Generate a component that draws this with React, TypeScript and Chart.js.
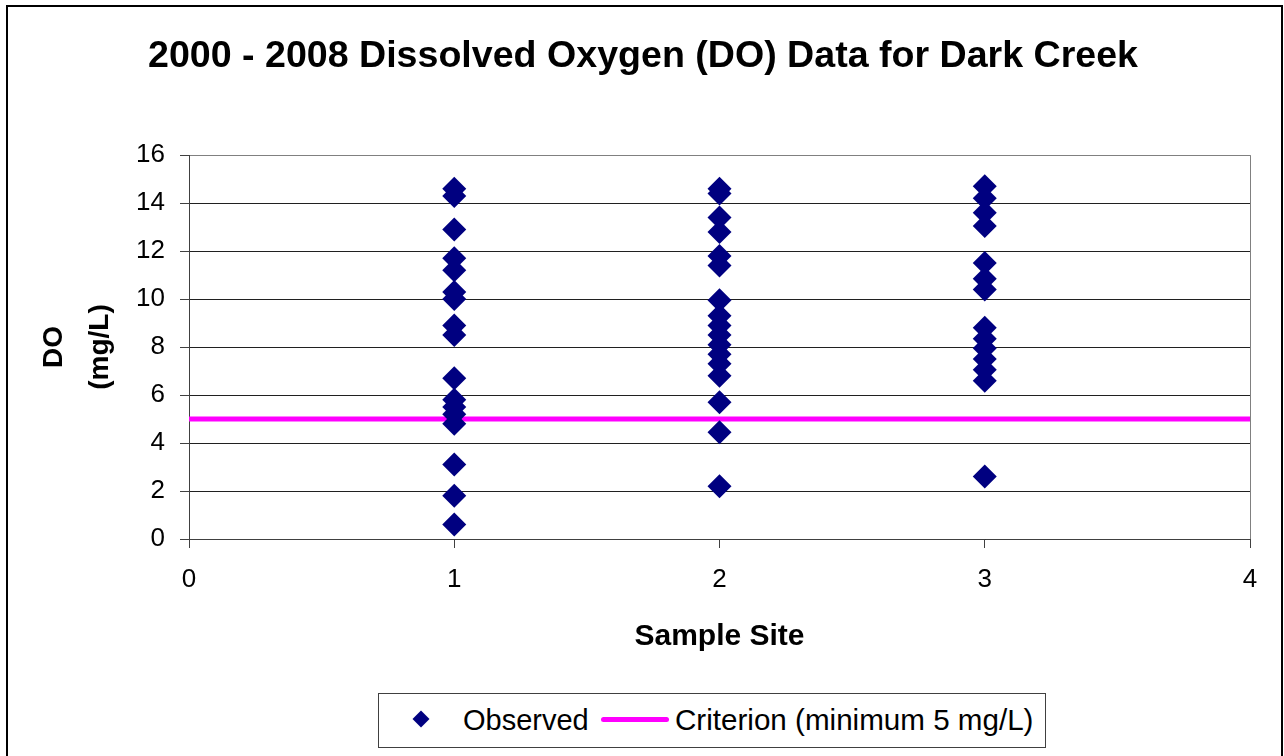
import React, { useEffect, useRef } from "react";
import { Chart, registerables } from "chart.js";

Chart.register(...registerables);

const chartTitle = "2000 - 2008 Dissolved Oxygen (DO) Data for Dark Creek";
const xAxisTitle = "Sample Site";
const yAxisTitle = ["DO", "(mg/L)"];
const observedLabel = "Observed";
const criterionLabel = "Criterion (minimum 5 mg/L)";

const sites = [1, 2, 3];
const site1Values = [14.6, 14.3, 12.9, 11.7, 11.2, 10.3, 10.0, 8.9, 8.5, 6.7, 5.8, 5.5, 5.2, 4.8, 3.1, 1.8, 0.6];
const site2Values = [14.6, 14.4, 13.4, 12.8, 11.8, 11.4, 9.95, 9.3, 8.9, 8.5, 8.1, 7.7, 7.3, 6.8, 5.7, 4.45, 2.2];
const site3Values = [14.7, 14.2, 13.6, 13.05, 11.5, 10.85, 10.4, 8.8, 8.35, 7.95, 7.5, 7.05, 6.6, 2.6];
const criterionX = [0, 4];
const criterionValue = 5;

const xMin = 0;
const xMax = 4;
const yMin = 0;
const yMax = 16;
const yStep = 2;

const FONT = "'Liberation Sans', Arial, sans-serif";

export default function App() {
  const canvasRef = useRef<HTMLCanvasElement | null>(null);

  useEffect(() => {
    if (!canvasRef.current) return;
    const siteValues = [site1Values, site2Values, site3Values];
    const observed: { x: number; y: number }[] = [];
    sites.forEach((s, i) => {
      siteValues[i].forEach((v) => observed.push({ x: s, y: v }));
    });
    const criterion = criterionX.map((x) => ({ x, y: criterionValue }));

    const chart = new Chart(canvasRef.current, {
      type: "scatter",
      data: {
        datasets: [
          {
            label: observedLabel,
            data: observed,
            pointStyle: "rectRot",
            pointRadius: 12,
            pointHoverRadius: 12,
            backgroundColor: "#000080",
            borderColor: "#000080",
            borderWidth: 0,
          },
          {
            type: "line",
            label: criterionLabel,
            data: criterion,
            borderColor: "#FF00FF",
            borderWidth: 5,
            borderCapStyle: "round",
            pointRadius: 0,
            showLine: true,
            fill: false,
          } as any,
        ],
      },
      options: {
        animation: false,
        responsive: false,
        maintainAspectRatio: false,
        layout: { padding: { left: 36, right: 34, top: 0, bottom: 86 } },
        plugins: {
          legend: { display: false },
          tooltip: { enabled: false },
          title: {
            display: true,
            text: chartTitle,
            color: "#000",
            font: { family: FONT, size: 37.6, weight: "bold", lineHeight: 1.2 },
            padding: { top: 34, bottom: 76 },
          },
        },
        scales: {
          x: {
            type: "linear",
            min: xMin,
            max: xMax,
            afterFit: (scale: any) => {
              scale.height = 131;
            },
            ticks: {
              stepSize: 1,
              color: "#000",
              padding: 16,
              font: { family: FONT, size: 26 },
            },
            grid: {
              color: (ctx: any) => (ctx.tick && ctx.tick.value === xMax ? "#808080" : "rgba(0,0,0,0)"),
              tickColor: "#404040",
              tickLength: 9,
              lineWidth: 1,
            },
            border: { color: "#404040", width: 1 },
            title: {
              display: true,
              text: xAxisTitle,
              color: "#000",
              font: { family: FONT, size: 30, weight: "bold", lineHeight: 1.2 },
              padding: { top: 0, bottom: 15 },
            },
          },
          y: {
            type: "linear",
            min: yMin,
            max: yMax,
            afterFit: (scale: any) => {
              scale.width = 153;
            },
            ticks: {
              stepSize: yStep,
              color: "#000",
              padding: 15,
              font: { family: FONT, size: 26 },
            },
            grid: {
              color: (ctx: any) => (ctx.tick && ctx.tick.value === yMax ? "#808080" : "#202020"),
              tickColor: "#404040",
              tickLength: 9,
              lineWidth: 1,
            },
            border: { color: "#404040", width: 1 },
            title: {
              display: true,
              text: yAxisTitle,
              color: "#000",
              font: { family: FONT, size: 28, weight: "bold", lineHeight: 1.62 },
              padding: { top: -4, bottom: 0 },
            },
          },
        },
      },
    });
    return () => chart.destroy();
  }, []);

  return (
    <div
      style={{
        position: "fixed",
        left: 0,
        top: 0,
        width: 1284,
        height: 756,
        overflow: "hidden",
        background: "#fff",
        fontFamily: FONT,
      }}
    >
      <div
        style={{
          position: "absolute",
          left: 6,
          top: 5,
          width: 1277,
          height: 900,
          border: "2px solid #000",
          boxSizing: "border-box",
        }}
      />
      <canvas ref={canvasRef} width={1284} height={756} style={{ position: "absolute", left: 0, top: 0, width: 1284, height: 756 }} />
      <div
        style={{
          position: "absolute",
          left: 378,
          top: 693,
          width: 668,
          height: 55,
          border: "1px solid #404040",
          boxSizing: "border-box",
          background: "#fff",
        }}
      >
        <div
          style={{
            position: "absolute",
            left: 36,
            top: 19,
            width: 12,
            height: 12,
            background: "#000080",
            transform: "rotate(45deg)",
          }}
        />
        <div
          style={{
            position: "absolute",
            left: 84,
            top: 7,
            fontSize: 29,
            lineHeight: "38px",
            color: "#000",
            whiteSpace: "nowrap",
          }}
        >
          {observedLabel}
        </div>
        <div
          style={{
            position: "absolute",
            left: 222,
            top: 23,
            width: 68,
            height: 5,
            borderRadius: 3,
            background: "#FF00FF",
          }}
        />
        <div
          style={{
            position: "absolute",
            left: 296,
            top: 7,
            fontSize: 29.6,
            lineHeight: "38px",
            color: "#000",
            whiteSpace: "nowrap",
          }}
        >
          {criterionLabel}
        </div>
      </div>
    </div>
  );
}
